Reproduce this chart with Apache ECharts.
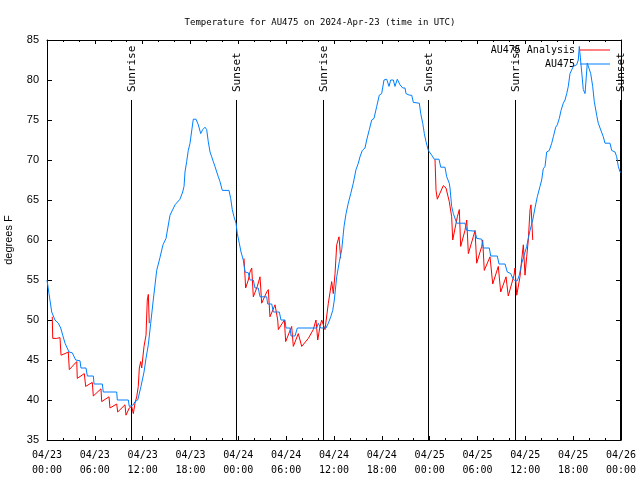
<!DOCTYPE html>
<html><head><meta charset="utf-8">
<script src="https://cdn.jsdelivr.net/npm/echarts@6/dist/echarts.min.js"></script>
<style>html,body{margin:0;padding:0;background:#fff}#c{width:640px;height:480px}</style>
</head><body><div id="c"></div>
<script>
const titleText = 'Temperature for AU475 on 2024-Apr-23 (time in UTC)';
const xTickLabels = ['04/23\n00:00','04/23\n06:00','04/23\n12:00','04/23\n18:00','04/24\n00:00','04/24\n06:00','04/24\n12:00','04/24\n18:00','04/25\n00:00','04/25\n06:00','04/25\n12:00','04/25\n18:00','04/26\n00:00'];
// hours since 2024-04-23 00:00 UTC, temperature degF
const obsPoints = [[0,55],[0.25,53.3],[0.59,51],[1.0,50],[1.42,49.6],[1.72,49],[1.97,48.1],[2.26,47.1],[2.76,46],[3.17,45.9],[3.6,45],[4.14,44.9],[4.26,44],[4.89,44],[5.06,43],[5.81,43],[5.9,42],[6.94,42],[7.06,41],[8.74,41],[8.82,40],[10.2,40],[10.32,39.2],[10.83,39.4],[11.04,39.8],[11.38,40],[11.79,41.7],[12.17,43.5],[12.42,45.2],[12.71,46.9],[13.01,49.6],[13.33,52.5],[13.76,56.2],[14.17,57.8],[14.55,59.4],[14.93,60.2],[15.43,63.1],[16.06,64.4],[16.68,65.1],[17.02,66],[17.19,66.7],[17.31,68.5],[17.52,69.8],[17.72,71.2],[17.94,72.1],[18.15,72.3],[18.35,75.1],[18.69,75.1],[18.98,74.4],[19.28,73.3],[19.53,73.8],[19.82,74.1],[20.03,73.8],[20.23,72.3],[20.45,71],[20.66,70.4],[20.86,69.8],[21.07,69.2],[21.29,68.5],[21.49,67.9],[21.7,67.3],[21.99,66.2],[22.83,66.2],[23.04,65.2],[23.24,63.8],[23.46,62.9],[23.71,62.1],[23.87,60.8],[24.12,59.6],[24.34,58.5],[24.62,57.5],[24.84,56],[25.25,55.9],[25.46,55],[25.88,55],[26.09,54],[26.5,54],[26.72,52.9],[27.56,52.9],[27.68,52],[28.19,52],[28.39,51],[29.14,51],[29.35,50],[29.85,50],[29.98,49],[30.48,49],[30.61,48],[31.11,48],[31.4,49],[33.83,49],[34.03,49.6],[34.33,49],[35.0,49],[35.29,49.6],[35.59,50.4],[35.84,51.2],[36.04,52.5],[36.34,55.4],[36.67,57.3],[36.97,58.8],[37.26,61.7],[37.51,63.3],[37.79,64.6],[38.1,65.8],[38.42,67.1],[38.76,68.8],[39.05,69.6],[39.26,70.4],[39.55,71.2],[39.89,71.5],[40.1,72.5],[40.43,73.8],[40.73,75],[41.02,75.2],[41.36,76.7],[41.68,78.1],[41.98,78.3],[42.27,80],[42.61,80.1],[42.9,79.2],[43.11,80],[43.44,80],[43.65,79.2],[43.94,80.1],[44.28,79.4],[44.62,79],[44.91,79],[45.03,78.3],[45.45,78.1],[45.75,78.1],[45.95,77.2],[46.7,77.1],[46.88,75.8],[47.13,74.6],[47.33,73.3],[47.54,72.3],[47.83,71.2],[48.26,70.6],[48.58,70.1],[49.17,70.1],[49.39,69.1],[49.92,69.1],[50.14,67.9],[50.46,67.1],[50.55,66.5],[50.76,64.2],[50.97,63.3],[51.39,62.1],[52.43,62.1],[52.65,61.2],[53.69,61.1],[53.9,60.2],[54.53,60.1],[54.73,59],[55.48,59],[55.66,58],[56.48,58],[56.7,57],[57.45,57],[57.74,56],[58.17,55.8],[58.42,55.2],[58.7,54.9],[58.99,54.9],[59.24,55.6],[59.55,57.1],[59.83,58],[60.17,59.2],[60.37,60.2],[60.59,61.2],[60.93,62.5],[61.21,64],[61.5,65.4],[61.84,66.7],[62.05,67.5],[62.25,68.9],[62.47,69.2],[62.68,71],[63.01,71.2],[63.31,72.1],[63.51,72.9],[63.81,74.1],[64.01,74.4],[64.26,75.2],[64.48,76.2],[64.76,77.1],[64.98,77.5],[65.19,78.3],[65.39,79.2],[65.6,80.8],[65.82,80.8],[66.02,81.7],[66.44,81.9],[66.64,82.5],[66.77,84.2],[66.95,84.2],[67.07,81],[67.27,78.8],[67.49,78.3],[67.61,78.1],[67.77,82.1],[68.02,82.1],[68.2,80.8],[68.45,79.2],[68.65,77.3],[68.95,75.6],[69.15,74.6],[69.37,74],[69.78,72.9],[69.99,72.1],[70.62,72.1],[70.83,71.2],[71.25,71],[71.46,70.4],[71.66,69.2],[71.88,68.5],[72,68.5]];
const anaNight1 = [[0.66,50.4],[0.72,47.7],[1.22,47.7],[1.63,47.8],[1.76,45.6],[2.26,45.8],[2.67,46],[2.8,43.8],[3.73,44.8],[3.8,42.7],[4.68,43.3],[4.85,41.7],[5.68,42.2],[5.81,40.5],[6.77,41.4],[6.86,39.8],[7.78,40.4],[7.9,39],[8.74,39.5],[8.87,38.5],[9.78,39.4],[9.91,38.1],[10.32,39],[10.62,39.2],[10.83,38.3],[11.04,39.6],[11.25,40.4],[11.45,41.7],[11.58,44],[11.75,44.8],[11.88,44],[12.17,46.7],[12.42,48.1],[12.58,52.5],[12.71,53.2],[12.83,49.6]];
const anaNight2 = [[24.71,57.7],[24.92,54],[25.25,55],[25.46,56],[25.68,56.5],[25.88,52.9],[26.38,54.2],[26.72,55.4],[26.93,52.1],[27.56,53.5],[27.76,53.8],[27.97,50.4],[28.6,51.9],[28.94,50],[29.02,48.8],[29.77,50],[29.94,47.3],[30.69,49.2],[30.9,46.7],[31.52,48.3],[31.95,46.7],[32.78,47.7],[33.4,48.8],[33.74,50],[33.96,47.5],[34.24,49.2],[34.46,50],[34.87,48.8],[35.29,52.1],[35.71,54.8],[35.91,53.3],[36.13,55.8],[36.34,59.4],[36.63,60.4],[36.84,57.7]];
const anaNight3 = [[48.67,70.1],[48.8,66.2],[48.96,65.1],[49.71,66.8],[49.8,66.9],[50.05,66.5],[50.46,64.8],[50.76,62.9],[50.89,60],[51.47,62.9],[51.72,63.8],[51.89,59.2],[52.43,61.2],[52.65,62.5],[52.85,58.3],[53.47,60.4],[53.69,61.2],[53.9,57.1],[54.53,59.2],[54.65,60],[54.85,56.2],[55.57,57.9],[55.91,54.5],[56.61,56.7],[56.91,53.5],[57.58,55.4],[57.86,53],[58.58,55.6],[58.7,56.5],[58.92,53.1],[59.33,55.4],[59.54,57.5],[59.75,59.4],[59.96,55.6],[60.17,57.9],[60.37,60],[60.59,63.8],[60.71,64.4],[60.93,60]];
const sunHours = [10.57, 23.75, 34.62, 47.8, 58.65, 71.83];
const sunNames = ['Sunrise','Sunset','Sunrise','Sunset','Sunrise','Sunset'];
const seriesNames = ['AU475 Analysis','AU475'];
const seriesColors = ['#ff0000','#0080ff'];

const mono = '"DejaVu Sans Mono", monospace';
const sans = '"Liberation Sans", Arial, sans-serif';
const yMin = 35, yMax = 85, sunLineTop = 77.5;

function xAxisDef(pos, labels) {
  return {
    type: 'value', position: pos, min: 0, max: 72, interval: 6,
    axisLine: {show: true, onZero: false, lineStyle: {color: '#000', width: 1}},
    axisTick: {show: true, inside: true, length: 4, lineStyle: {color: '#000'}},
    minorTick: {show: true, splitNumber: 3, length: 2, lineStyle: {color: '#000'}},
    splitLine: {show: false}, minorSplitLine: {show: false},
    axisLabel: {show: labels, margin: 8, color: '#000', fontFamily: mono, fontSize: 10, lineHeight: 15,
      formatter: v => xTickLabels[Math.round(v / 6)] || ''}
  };
}
function yAxisDef(pos, labels) {
  return {
    type: 'value', position: pos, min: yMin, max: yMax, interval: 5,
    name: labels ? 'degrees F' : '', nameLocation: 'middle', nameGap: 33, nameRotate: 90,
    nameTextStyle: {color: '#000', fontFamily: sans, fontSize: 11},
    axisLine: {show: true, onZero: false, lineStyle: {color: '#000', width: 1}},
    axisTick: {show: true, inside: true, length: 5, lineStyle: {color: '#000'}},
    splitLine: {show: false},
    axisLabel: {show: labels, margin: 8, color: '#000', fontFamily: sans, fontSize: 11}
  };
}
function lineSeries(name, color, pts) {
  return {type: 'line', name: name, data: pts, xAxisIndex: 0, yAxisIndex: 0,
    symbol: 'none', showSymbol: false, animation: false, silent: true,
    lineStyle: {color: color, width: 1}, itemStyle: {color: color}};
}

const chart = echarts.init(document.getElementById('c'), null, {renderer: 'canvas'});
chart.setOption({
  backgroundColor: '#fff',
  animation: false,
  title: {text: titleText, left: 'center', top: 13,
    textStyle: {fontFamily: mono, fontSize: 9, fontWeight: 'normal', color: '#000'}},
  legend: {
    data: seriesNames.map((n, i) => ({name: n, icon: 'rect', itemStyle: {color: seriesColors[i]}})),
    orient: 'vertical', right: 30, top: 43, align: 'right',
    itemWidth: 30, itemHeight: 1, itemGap: 0, padding: 0,
    textStyle: {fontFamily: mono, fontSize: 10, color: '#000', lineHeight: 14}},
  grid: {left: 47, right: 19, top: 40, bottom: 40, show: false, containLabel: false, outerBoundsMode: 'none'},
  xAxis: [xAxisDef('bottom', true), xAxisDef('top', false)],
  yAxis: [yAxisDef('left', true), yAxisDef('right', false)],
  series: [
    lineSeries(seriesNames[0], seriesColors[0], anaNight1),
    lineSeries(seriesNames[0], seriesColors[0], anaNight2),
    lineSeries(seriesNames[0], seriesColors[0], anaNight3),
    lineSeries(seriesNames[1], seriesColors[1], obsPoints),
    {
      type: 'custom', name: 'sun', clip: false, silent: true, animation: false,
      data: sunHours.map(h => [h, yMin]),
      renderItem: function (params, api) {
        const h = api.value(0);
        const p0 = api.coord([h, yMin]);
        const p1 = api.coord([h, sunLineTop]);
        const x = Math.round(p0[0]) + 0.5;
        return {type: 'group', children: [
          {type: 'line', shape: {x1: x, y1: p0[1], x2: x, y2: p1[1]}, style: {stroke: '#000', lineWidth: 1}},
          {type: 'text', x: x + 1, y: p1[1] - 8, rotation: Math.PI / 2,
            style: {text: sunNames[params.dataIndex], font: '11px ' + mono, fill: '#000', align: 'left', verticalAlign: 'middle'}}
        ]};
      }
    }
  ]
});
</script></body></html>
